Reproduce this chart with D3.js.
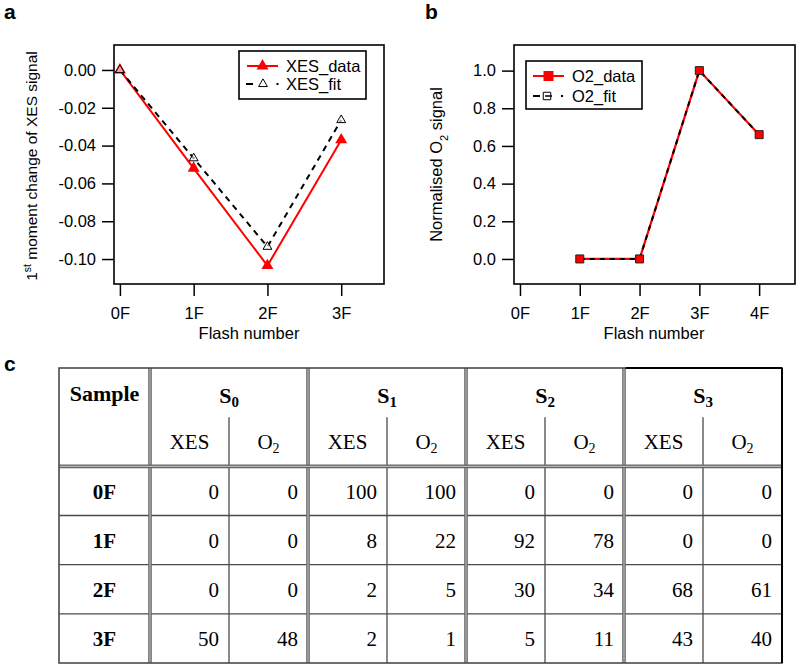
<!DOCTYPE html>
<html><head><meta charset="utf-8">
<script src="https://cdn.jsdelivr.net/npm/d3@7"></script>
<style>
html,body{margin:0;padding:0;background:#fff;}
svg{display:block;}
.sans{font-family:"Liberation Sans",Arial,sans-serif;}
.serif{font-family:"Liberation Serif","Times New Roman",serif;}
</style></head>
<body>
<svg id="chart" width="800" height="668"></svg>
<script>
// ---------- DATA ----------
const catsA = ["0F","1F","2F","3F"];
const xesData = [0, -0.052, -0.1035, -0.037];
const xesFit  = [0, -0.0467, -0.0935, -0.0265];
const yTicksA = [0, -0.02, -0.04, -0.06, -0.08, -0.10];

const catsB = ["0F","1F","2F","3F","4F"];
const o2Idx  = [1, 2, 3, 4];
const o2Data = [0, 0, 1.0, 0.66];
const o2Fit  = [0, 0, 1.0, 0.66];
const yTicksB = [0, 0.2, 0.4, 0.6, 0.8, 1.0];

const samples = ["0","1","2","3"];           // S subscripts
const flashes = ["0F","1F","2F","3F"];
const xesPct = [[0,100,0,0],[0,8,92,0],[0,2,30,68],[50,2,5,43]];
const o2Pct  = [[0,100,0,0],[0,22,78,0],[0,5,34,61],[48,1,11,40]];

// ---------- SETUP ----------
const svg = d3.select("#chart");
svg.append("rect").attr("width",800).attr("height",668).attr("fill","#fff");
const FS = 16.5;
const RED = "#ff0000";

function panelLetter(t,x,y){
  svg.append("text").attr("class","sans").attr("x",x).attr("y",y)
    .attr("font-size",21).attr("font-weight","bold").text(t);
}
panelLetter("a",4,19);
panelLetter("b",425,19);
panelLetter("c",4,371);

function styleAxis(g){
  g.select(".domain").remove();
  g.selectAll(".tick line").attr("stroke","#000").attr("stroke-width",1.5);
  g.selectAll(".tick text").attr("class","sans").attr("font-size",FS).attr("fill","#000");
}

// ---------- PANEL A ----------
const xA = d3.scaleLinear().domain([-0.08,3.58]).range([114,384]);
const yA = d3.scaleLinear().domain([-0.1132,0.0132]).range([284,45]);

svg.append("g").attr("transform","translate(114,0)")
  .call(d3.axisLeft(yA).tickValues(yTicksA).tickSize(12).tickPadding(6).tickFormat(d=>d.toFixed(2)))
  .call(styleAxis);
svg.append("g").attr("transform","translate(0,284)")
  .call(d3.axisBottom(xA).tickValues(d3.range(catsA.length)).tickSize(12).tickPadding(11).tickFormat(i=>catsA[i]))
  .call(styleAxis);

const lineA = d3.line().x((d,i)=>xA(i)).y(d=>yA(d));
svg.append("path").attr("d",lineA(xesData)).attr("fill","none").attr("stroke",RED).attr("stroke-width",2);
svg.append("path").attr("d",lineA(xesFit)).attr("fill","none").attr("stroke","#000").attr("stroke-width",2).attr("stroke-dasharray","6,5");

const triBig = d3.symbol(d3.symbolTriangle,62)();
const triSmall = d3.symbol(d3.symbolTriangle,34)();
svg.selectAll(".ta").data(xesData).join("path")
  .attr("transform",(d,i)=>`translate(${xA(i)},${yA(d)})`).attr("d",triBig).attr("fill",RED);
svg.selectAll(".tf").data(xesFit).join("path")
  .attr("transform",(d,i)=>`translate(${xA(i)},${yA(d)})`).attr("d",triSmall)
  .attr("fill","#fff").attr("fill-opacity",0.6).attr("stroke","#000").attr("stroke-width",1);

svg.append("rect").attr("x",114).attr("y",45).attr("width",270).attr("height",239)
  .attr("fill","none").attr("stroke","#000").attr("stroke-width",1.6);

// legend a
svg.append("rect").attr("x",239).attr("y",51).attr("width",127).attr("height",48)
  .attr("fill","#fff").attr("stroke","#000").attr("stroke-width",1.6);
svg.append("line").attr("x1",247).attr("x2",278).attr("y1",66).attr("y2",66).attr("stroke",RED).attr("stroke-width",2);
svg.append("path").attr("transform","translate(262.5,66)").attr("d",triBig).attr("fill",RED);
svg.append("line").attr("x1",246).attr("x2",253).attr("y1",84).attr("y2",84).attr("stroke","#000").attr("stroke-width",2);
svg.append("path").attr("transform","translate(263,84)").attr("d",triSmall).attr("fill","#fff").attr("stroke","#000");
svg.append("line").attr("x1",276.5).attr("x2",278.5).attr("y1",84).attr("y2",84).attr("stroke","#000").attr("stroke-width",2);
svg.append("text").attr("class","sans").attr("x",286).attr("y",72).attr("font-size",FS).text("XES_data");
svg.append("text").attr("class","sans").attr("x",286).attr("y",90).attr("font-size",FS).text("XES_fit");

// labels a
const yla = svg.append("text").attr("class","sans").attr("font-size",15.5)
  .attr("text-anchor","middle").attr("transform","translate(37,166) rotate(-90)");
yla.append("tspan").text("1");
yla.append("tspan").attr("baseline-shift","super").attr("font-size",10.5).text("st");
yla.append("tspan").text(" moment change of XES signal");
svg.append("text").attr("class","sans").attr("font-size",FS).attr("text-anchor","middle")
  .attr("x",249).attr("y",339).text("Flash number");

// ---------- PANEL B ----------
const xB = d3.scaleLinear().domain([-0.1,4.6]).range([514,795]);
const yB = d3.scaleLinear().domain([-0.133,1.136]).range([284,45]);

svg.append("g").attr("transform","translate(514,0)")
  .call(d3.axisLeft(yB).tickValues(yTicksB).tickSize(12).tickPadding(6).tickFormat(d=>d.toFixed(1)))
  .call(styleAxis);
svg.append("g").attr("transform","translate(0,284)")
  .call(d3.axisBottom(xB).tickValues(d3.range(catsB.length)).tickSize(12).tickPadding(11).tickFormat(i=>catsB[i]))
  .call(styleAxis);

const lineB = d3.line().x((d,i)=>xB(o2Idx[i])).y(d=>yB(d));
svg.append("path").attr("d",lineB(o2Data)).attr("fill","none").attr("stroke",RED).attr("stroke-width",2.2);
svg.append("path").attr("d",lineB(o2Fit)).attr("fill","none").attr("stroke","#000").attr("stroke-width",2).attr("stroke-dasharray","5,5");
const sq = d3.symbol(d3.symbolSquare,64)();
svg.selectAll(".sa").data(o2Data).join("path")
  .attr("transform",(d,i)=>`translate(${xB(o2Idx[i])},${yB(d)})`).attr("d",sq).attr("fill",RED);
svg.selectAll(".sf").data(o2Fit).join("path")
  .attr("transform",(d,i)=>`translate(${xB(o2Idx[i])},${yB(d)})`).attr("d",sq)
  .attr("fill","none").attr("stroke","#222").attr("stroke-width",1);

svg.append("rect").attr("x",514).attr("y",45).attr("width",281).attr("height",239)
  .attr("fill","none").attr("stroke","#000").attr("stroke-width",1.6);

// legend b
svg.append("rect").attr("x",526).attr("y",61).attr("width",116).attr("height",48)
  .attr("fill","#fff").attr("stroke","#000").attr("stroke-width",1.6);
svg.append("line").attr("x1",533).attr("x2",564).attr("y1",76).attr("y2",76).attr("stroke",RED).attr("stroke-width",2);
svg.append("path").attr("transform","translate(548.5,76)").attr("d",d3.symbol(d3.symbolSquare,100)()).attr("fill",RED);
svg.append("line").attr("x1",533).attr("x2",540).attr("y1",96).attr("y2",96).attr("stroke","#000").attr("stroke-width",2);
svg.append("path").attr("transform","translate(547,96)").attr("d",d3.symbol(d3.symbolSquare,56)()).attr("fill","none").attr("stroke","#000");
svg.append("line").attr("x1",545).attr("x2",552).attr("y1",96).attr("y2",96).attr("stroke","#000").attr("stroke-width",1.5);
svg.append("line").attr("x1",561).attr("x2",563).attr("y1",96).attr("y2",96).attr("stroke","#000").attr("stroke-width",2);
svg.append("text").attr("class","sans").attr("x",572).attr("y",82).attr("font-size",FS).text("O2_data");
svg.append("text").attr("class","sans").attr("x",572).attr("y",102).attr("font-size",FS).text("O2_fit");

const ylb = svg.append("text").attr("class","sans").attr("font-size",FS)
  .attr("text-anchor","middle").attr("transform","translate(442,164.5) rotate(-90)");
ylb.append("tspan").text("Normalised O");
ylb.append("tspan").attr("baseline-shift","sub").attr("font-size",11).text("2");
ylb.append("tspan").text(" signal");
svg.append("text").attr("class","sans").attr("font-size",FS).attr("text-anchor","middle")
  .attr("x",654).attr("y",339).text("Flash number");

// ---------- TABLE ----------
const subKeys = [];
samples.forEach(s=>{subKeys.push("XES"+s); subKeys.push("O2"+s);});
const colX = d3.scaleBand().domain(subKeys).range([150,782]);
const rowKeys = ["h1","h2"].concat(flashes);
const rowY = d3.scaleBand().domain(rowKeys).range([368,663]);
const tL = 59, tR = 782, tT = 368, tB = 663;
const tbl = svg.append("g");
const GR = "#4a4a4a";
function single(x1,y1,x2,y2,c,w){tbl.append("line").attr("x1",x1).attr("y1",y1).attr("x2",x2).attr("y2",y2).attr("stroke",c||GR).attr("stroke-width",w||1.3);}
function dbl(x1,y1,x2,y2){
  tbl.append("line").attr("x1",x1).attr("y1",y1).attr("x2",x2).attr("y2",y2).attr("stroke","#666").attr("stroke-width",3.6);
  tbl.append("line").attr("x1",x1).attr("y1",y1).attr("x2",x2).attr("y2",y2).attr("stroke","#c8c8c8").attr("stroke-width",1);
}
flashes.slice(1).forEach(f=>single(tL,rowY(f),tR,rowY(f)));
samples.forEach(s=>{const x=colX("O2"+s); single(x,rowY("h2"),x,tB);});
samples.forEach(s=>{const x=colX("XES"+s); dbl(x,tT,x,tB);});
dbl(tL,rowY(flashes[0]),tR,rowY(flashes[0]));
tbl.append("rect").attr("x",tL).attr("y",tT).attr("width",tR-tL).attr("height",tB-tT)
  .attr("fill","none").attr("stroke",GR).attr("stroke-width",1.6);
const s3x = colX("XES"+samples[3]);
single(s3x+1.8,tT,tR,tT,"#000",2); single(tR,tT,tR,tB,"#000",2);

const TF = 21;
tbl.append("text").attr("class","serif").attr("font-size",TF+1).attr("font-weight","bold")
  .attr("text-anchor","middle").attr("x",(tL+150)/2).attr("y",rowY("h1")+33).text("Sample");
samples.forEach(s=>{
  const cx = colX("XES"+s)+colX.bandwidth();
  const t = tbl.append("text").attr("class","serif").attr("font-size",TF+1).attr("font-weight","bold")
    .attr("text-anchor","middle").attr("x",cx).attr("y",rowY("h1")+35);
  t.append("tspan").text("S");
  t.append("tspan").attr("font-size",15).attr("dy",4).text(s);
  tbl.append("text").attr("class","serif").attr("font-size",TF).attr("text-anchor","middle")
    .attr("x",colX("XES"+s)+colX.bandwidth()/2).attr("y",rowY("h2")+32).text("XES");
  const o = tbl.append("text").attr("class","serif").attr("font-size",TF).attr("text-anchor","middle")
    .attr("x",colX("O2"+s)+colX.bandwidth()/2).attr("y",rowY("h2")+32);
  o.append("tspan").text("O");
  o.append("tspan").attr("font-size",14).attr("dy",4).text("2");
});
flashes.forEach((f,r)=>{
  const yb = rowY(f)+rowY.bandwidth()/2+8;
  tbl.append("text").attr("class","serif").attr("font-size",TF).attr("font-weight","bold")
    .attr("text-anchor","middle").attr("x",(tL+150)/2).attr("y",yb).text(f);
  samples.forEach((s,c)=>{
    tbl.append("text").attr("class","serif").attr("font-size",TF).attr("text-anchor","end")
      .attr("x",colX("XES"+s)+colX.bandwidth()-10).attr("y",yb).text(xesPct[r][c]);
    tbl.append("text").attr("class","serif").attr("font-size",TF).attr("text-anchor","end")
      .attr("x",colX("O2"+s)+colX.bandwidth()-10).attr("y",yb).text(o2Pct[r][c]);
  });
});
</script>
</body></html>
